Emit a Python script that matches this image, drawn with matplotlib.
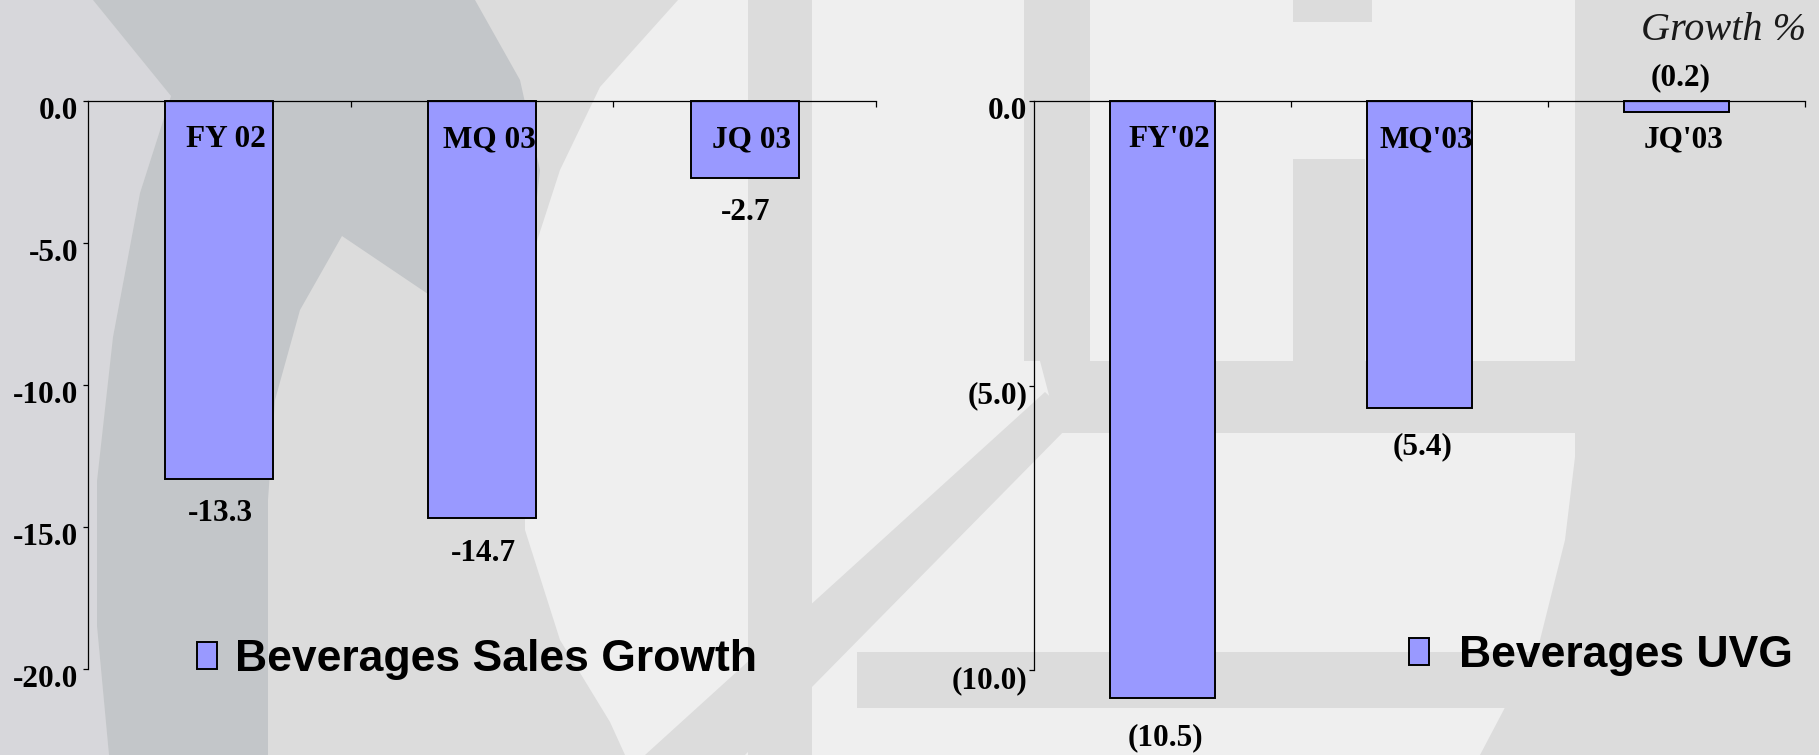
import matplotlib
matplotlib.use("Agg")
import matplotlib.pyplot as plt
from matplotlib.patches import Polygon
from matplotlib.transforms import ScaledTranslation

# data
sales_cats = ["FY 02", "MQ 03", "JQ 03"]
sales_growth = [-13.3, -14.7, -2.7]
sales_ticks = [0, -5, -10, -15, -20]

uvg_cats = ["FY'02", "MQ'03", "JQ'03"]
uvg_growth = [-10.5, -5.4, -0.2]
uvg_ticks = [0, -5, -10]

W, H = 1819, 755
BAR = "#9999ff"
SERIF = ["Liberation Serif", "DejaVu Serif"]
SANS = ["Liberation Sans", "DejaVu Sans"]

fig = plt.figure(figsize=(W / 100, H / 100), dpi=100)
fig.patch.set_facecolor("#efefef")


def px(points):
    # pixel coords (y from top) -> figure fraction
    return [(x / W, 1 - y / H) for x, y in points]


def bg(points, color):
    fig.add_artist(Polygon(px(points), closed=True, facecolor=color,
                           edgecolor="none", transform=fig.transFigure, zorder=-2))


# watermark-like background shapes
bg([(0, 0), (678, 0), (600, 87), (560, 170), (537, 241), (525, 400), (525, 530),
    (560, 640), (610, 722), (625, 755), (0, 755)], "#dcdcdc")
bg([(0, 0), (93, 0), (171, 96), (140, 193), (113, 337), (97, 481), (97, 626),
    (109, 755), (0, 755)], "#d7d7db")
bg([(93, 0), (475, 0), (520, 80), (540, 170), (530, 260), (525, 330), (428, 294),
    (342, 236), (300, 310), (275, 400), (268, 500), (268, 755), (109, 755),
    (97, 626), (97, 481), (113, 337), (140, 193), (171, 96)], "#c3c6c9")
bg([(748, 0), (812, 0), (812, 755), (748, 755)], "#dcdcdc")
bg([(1024, 0), (1090, 0), (1090, 361), (1024, 361)], "#dcdcdc")
bg([(1293, 0), (1372, 0), (1372, 22), (1293, 22)], "#dcdcdc")
bg([(1293, 159), (1365, 159), (1365, 361), (1293, 361)], "#dcdcdc")
bg([(1040, 361), (1600, 361), (1600, 433), (1059, 433)], "#dcdcdc")
bg([(645, 755), (745, 755), (1075, 420), (1045, 392)], "#dcdcdc")
bg([(857, 652), (1600, 652), (1600, 708), (857, 708)], "#dcdcdc")
bg([(1575, 0), (1819, 0), (1819, 755), (1480, 755), (1500, 717), (1540, 640),
    (1565, 540), (1575, 457)], "#dcdcdc")


def paren(v):
    return "0.0" if v == 0 else f"({abs(v):.1f})"


def setup(ax, ticks, ticklabels, ylim, pad):
    ax.set_facecolor("none")
    ax.set_xlim(-0.5, 2.5)
    ax.set_ylim(*ylim)
    for s in ("right", "bottom"):
        ax.spines[s].set_visible(False)
    for s in ("left", "top"):
        ax.spines[s].set_linewidth(0.9)
    ax.xaxis.tick_top()
    ax.set_xticks([0.5, 1.5, 2.5])
    ax.set_xticklabels([])
    ax.tick_params(axis="x", direction="in", length=4, width=0.9, labeltop=False)
    ax.set_yticks(ticks)
    ax.set_yticklabels(ticklabels, fontsize=22.5, fontweight="bold", family=SERIF)
    ax.tick_params(axis="y", direction="out", length=3.6, width=0.9, pad=pad)
    for lab in ax.get_yticklabels():
        lab.set_transform(lab.get_transform() + ScaledTranslation(0, -5 / 72, fig.dpi_scale_trans))


legend_kw = dict(bbox_transform=fig.transFigure, frameon=False, borderpad=0,
                 borderaxespad=0, handlelength=0.45, handleheight=0.55,
                 prop={"family": SANS, "weight": "bold", "size": 32})

# left chart: sales growth
ax1 = fig.add_axes([88 / W, 1 - 669 / H, 788 / W, 568 / H])
setup(ax1, sales_ticks, [f"{t:.1f}" for t in sales_ticks], (-20, 0), 3.5)
ax1.bar(range(3), sales_growth, width=0.41, color=BAR, edgecolor="black",
        linewidth=1.4, label="Beverages Sales Growth", clip_on=False)
for i, (c, v) in enumerate(zip(sales_cats, sales_growth)):
    ax1.annotate(c, xy=(i, 0), xytext=(5, -28), textcoords="offset points",
                 ha="center", va="center", fontsize=22.5, fontweight="bold", family=SERIF)
    ax1.annotate(f"{v:.1f}", xy=(i, v), xytext=(1, -25), textcoords="offset points",
                 ha="center", va="center", fontsize=22.5, fontweight="bold", family=SERIF)
ax1.legend(loc="center left", bbox_to_anchor=(197 / W, 1 - 660 / H),
           handletextpad=0.4, **legend_kw)

# right chart: UVG
ax2 = fig.add_axes([1034 / W, 1 - 670 / H, 771 / W, 569 / H])
setup(ax2, uvg_ticks, [paren(t) for t in uvg_ticks], (-10, 0), 1)
ax2.bar(range(3), uvg_growth, width=0.41, color=BAR, edgecolor="black",
        linewidth=1.4, label="Beverages UVG", clip_on=False)
for i, (c, v) in enumerate(zip(uvg_cats, uvg_growth)):
    ax2.annotate(c, xy=(i, 0), xytext=(5, -28), textcoords="offset points",
                 ha="center", va="center", fontsize=22.5, fontweight="bold", family=SERIF)
    if abs(v) < 1:
        ax2.annotate(paren(v), xy=(i, 0), xytext=(3, 17), textcoords="offset points",
                     ha="center", va="center", fontsize=22.5, fontweight="bold", family=SERIF)
    else:
        ax2.annotate(paren(v), xy=(i, v), xytext=(2, -28), textcoords="offset points",
                     ha="center", va="center", fontsize=22.5, fontweight="bold", family=SERIF,
                     annotation_clip=False)
ax2.legend(loc="center left", bbox_to_anchor=(1409 / W, 1 - 656 / H),
           handletextpad=0.68, **legend_kw)

fig.text(1806 / W, 1 - 30 / H, "Growth %", ha="right", va="center",
         fontsize=29, style="italic", family=SERIF, color="#1a1a1a")

fig.savefig("out.png", dpi=100, facecolor=fig.get_facecolor())
